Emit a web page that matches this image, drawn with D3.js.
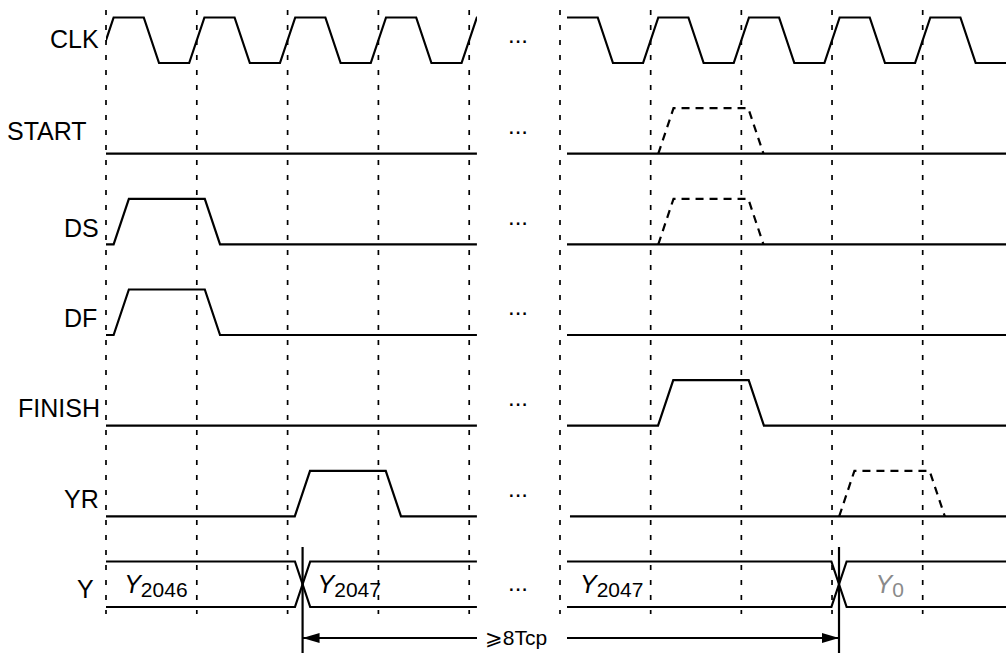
<!DOCTYPE html>
<html><head><meta charset="utf-8">
<script src="https://cdn.jsdelivr.net/npm/d3@7"></script>
<style>body{margin:0;background:#fff}svg{display:block}</style>
</head><body><svg id="c" width="1006" height="653"></svg>
<script>
// ---------- data ----------
const signals = ["CLK","START","DS","DF","FINISH","YR","Y"];
const gridTicks = [0,1,2,3,4];               // clock periods with dashed guide lines
// edges: [centre time (clock periods), new level]
const clkLeftEdges  = [[0,1],[0.5,0],[1,1],[1.5,0],[2,1],[2.5,0],[3,1],[3.5,0],[4,1]];
const clkRightEdges = [[0.5,0],[1,1],[1.5,0],[2,1],[2.5,0],[3,1],[3.5,0],[4,1],[4.5,0]];
const dsLeftEdges   = [[0.168,1],[1.172,0]];
const dfLeftEdges   = [[0.168,1],[1.172,0]];
const yrLeftEdges   = [[2.163,1],[3.165,0]];
const finishRightEdges = [[1.165,1],[2.165,0]];
const startRightDashed = [[1.168,1],[2.16,0]];
const dsRightDashed    = [[1.168,1],[2.16,0]];
const yrRightDashed    = [[3.163,1],[4.16,0]];
const yLeftChanges  = [2.165];
const yRightChanges = [3.077];
const yLeftLabels  = [{t:0.2, sub:"2046", grey:false},{t:2.33, sub:"2047", grey:false}];
const yRightLabels = [{t:0.22, sub:"2047", grey:false},{t:3.48, sub:"0", grey:true}];
const spanLabel = "\u2A7E8Tcp";

// ---------- layout ----------
const svg = d3.select("#c");
const font = "'Liberation Sans', Arial, sans-serif";
const xL = d3.scaleLinear().domain([0,4]).range([106, 469.2]);
const xR = d3.scaleLinear().domain([0,4]).range([560, 922.7]);
const panelL = [0, 4.085], panelR = [0.077, 4.92];
const yLow = d3.scalePoint().domain(signals).range([63, 607]);
const amp = 45.5;
const lvl = (s, v) => yLow(s) - v * amp;
const EW = 0.168;      // edge width in periods

// dashed guide lines
[xL, xR].forEach(x => {
  svg.append("g").selectAll("line").data(gridTicks).join("line")
    .attr("x1", d => x(d)).attr("x2", d => x(d))
    .attr("y1", 10).attr("y2", 614)
    .attr("stroke", "#000").attr("stroke-width", 1.7)
    .attr("stroke-dasharray", "5,10");
});

// clip paths
const defs = svg.append("defs");
defs.append("clipPath").attr("id","clipL").append("rect")
  .attr("x", xL(panelL[0])).attr("y", 0).attr("width", xL(panelL[1]) - xL(panelL[0])).attr("height", 653);
defs.append("clipPath").attr("id","clipR").append("rect")
  .attr("x", xR(panelR[0])).attr("y", 0).attr("width", xR(panelR[1]) - xR(panelR[0])).attr("height", 653);

function wavePts(t0, t1, start, edges) {
  const pts = [[t0, start]]; let cur = start;
  edges.forEach(([c, to]) => { pts.push([c - EW/2, cur]); pts.push([c + EW/2, to]); cur = to; });
  pts.push([t1, cur]);
  return pts;
}
function drawWave(sig, x, clip, pts, dashed) {
  const line = d3.line().x(d => x(d[0])).y(d => lvl(sig, d[1]));
  svg.append("path").attr("d", line(pts))
    .attr("fill", "none").attr("stroke", "#000").attr("stroke-width", 2.2)
    .attr("stroke-linejoin", "miter")
    .attr("stroke-dasharray", dashed ? "8,6" : null)
    .attr("clip-path", `url(#${clip})`);
}
function pulsePts(edges) {
  const [[a],[b]] = edges;
  return [[a - EW/2, 0],[a + EW/2, 1],[b - EW/2, 1],[b + EW/2, 0]];
}

// left panel
drawWave("CLK", xL, "clipL", wavePts(-0.3, panelL[1], 0, clkLeftEdges));
drawWave("START", xL, "clipL", wavePts(panelL[0], panelL[1], 0, []));
drawWave("DS", xL, "clipL", wavePts(panelL[0], panelL[1], 0, dsLeftEdges));
drawWave("DF", xL, "clipL", wavePts(panelL[0], panelL[1], 0, dfLeftEdges));
drawWave("FINISH", xL, "clipL", wavePts(panelL[0], panelL[1], 0, []));
drawWave("YR", xL, "clipL", wavePts(panelL[0], panelL[1], 0, yrLeftEdges));
// right panel
drawWave("CLK", xR, "clipR", wavePts(panelR[0], panelR[1], 1, clkRightEdges));
drawWave("START", xR, "clipR", wavePts(panelR[0], panelR[1], 0, []));
drawWave("START", xR, "clipR", pulsePts(startRightDashed), true);
drawWave("DS", xR, "clipR", wavePts(panelR[0], panelR[1], 0, []));
drawWave("DS", xR, "clipR", pulsePts(dsRightDashed), true);
drawWave("DF", xR, "clipR", wavePts(panelR[0], panelR[1], 0, []));
drawWave("FINISH", xR, "clipR", wavePts(panelR[0], panelR[1], 0, finishRightEdges));
drawWave("YR", xR, "clipR", wavePts(0.11, panelR[1], 0, []));
drawWave("YR", xR, "clipR", pulsePts(yrRightDashed), true);

// Y bus
function drawBus(x, clip, t0, t1, changes) {
  const a = [[t0, 1]], b = [[t0, 0]]; let top = 1;
  changes.forEach(c => {
    a.push([c - EW/2, top]); a.push([c + EW/2, 1 - top]);
    b.push([c - EW/2, 1 - top]); b.push([c + EW/2, top]);
    top = 1 - top;
  });
  a.push([t1, top]); b.push([t1, 1 - top]);
  drawWave("Y", x, clip, a); drawWave("Y", x, clip, b);
}
drawBus(xL, "clipL", panelL[0], panelL[1], yLeftChanges);
drawBus(xR, "clipR", panelR[0], panelR[1], yRightChanges);

function busLabels(x, labels) {
  labels.forEach(l => {
    const t = svg.append("text").attr("x", x(l.t)).attr("y", 593)
      .attr("font-family", font).attr("font-size", 25)
      .attr("fill", l.grey ? "#8a8a8a" : "#000");
    t.append("tspan").attr("font-style", "italic").text("Y");
    t.append("tspan").attr("font-size", 21).attr("dy", 4).text(l.sub);
  });
}
busLabels(xL, yLeftLabels);
busLabels(xR, yRightLabels);

// change markers + span arrow
const markX = [xL(yLeftChanges[0]), xR(yRightChanges[0])];
svg.selectAll("line.mark").data(markX).join("line").attr("class","mark")
  .attr("x1", d => d).attr("x2", d => d).attr("y1", 547).attr("y2", 653)
  .attr("stroke", "#000").attr("stroke-width", 2.2);
const ay = 638;
svg.append("line").attr("x1", markX[0]).attr("x2", 477).attr("y1", ay).attr("y2", ay)
  .attr("stroke", "#000").attr("stroke-width", 2);
svg.append("line").attr("x1", 567).attr("x2", markX[1]).attr("y1", ay).attr("y2", ay)
  .attr("stroke", "#000").attr("stroke-width", 2);
svg.append("path").attr("d", `M${markX[0]},${ay} l17,-5 l0,10 z`).attr("fill", "#000");
svg.append("path").attr("d", `M${markX[1]},${ay} l-17,-5 l0,10 z`).attr("fill", "#000");
svg.append("text").attr("x", 516).attr("y", ay + 7).attr("text-anchor", "middle")
  .attr("font-family", font).attr("font-size", 21).text(spanLabel);

// signal labels
const labelX = {CLK:50, START:7, DS:64, DF:64, FINISH:18, YR:64, Y:77};
const labelDy = {CLK:8, START:9, DS:15, DF:15, FINISH:14, YR:14, Y:14};
svg.selectAll("text.lab").data(signals).join("text").attr("class","lab")
  .attr("x", d => labelX[d]).attr("y", d => yLow(d) - amp/2 + labelDy[d])
  .attr("font-family", font).attr("font-size", 25).text(d => d);

// ellipses
svg.selectAll("text.ell").data(signals).join("text").attr("class","ell")
  .attr("x", 518).attr("y", d => (d === "Y" ? 591 : yLow(d) - amp/2 + 3))
  .attr("text-anchor", "middle")
  .attr("font-family", font).attr("font-size", 24).text("...");
</script></body></html>
